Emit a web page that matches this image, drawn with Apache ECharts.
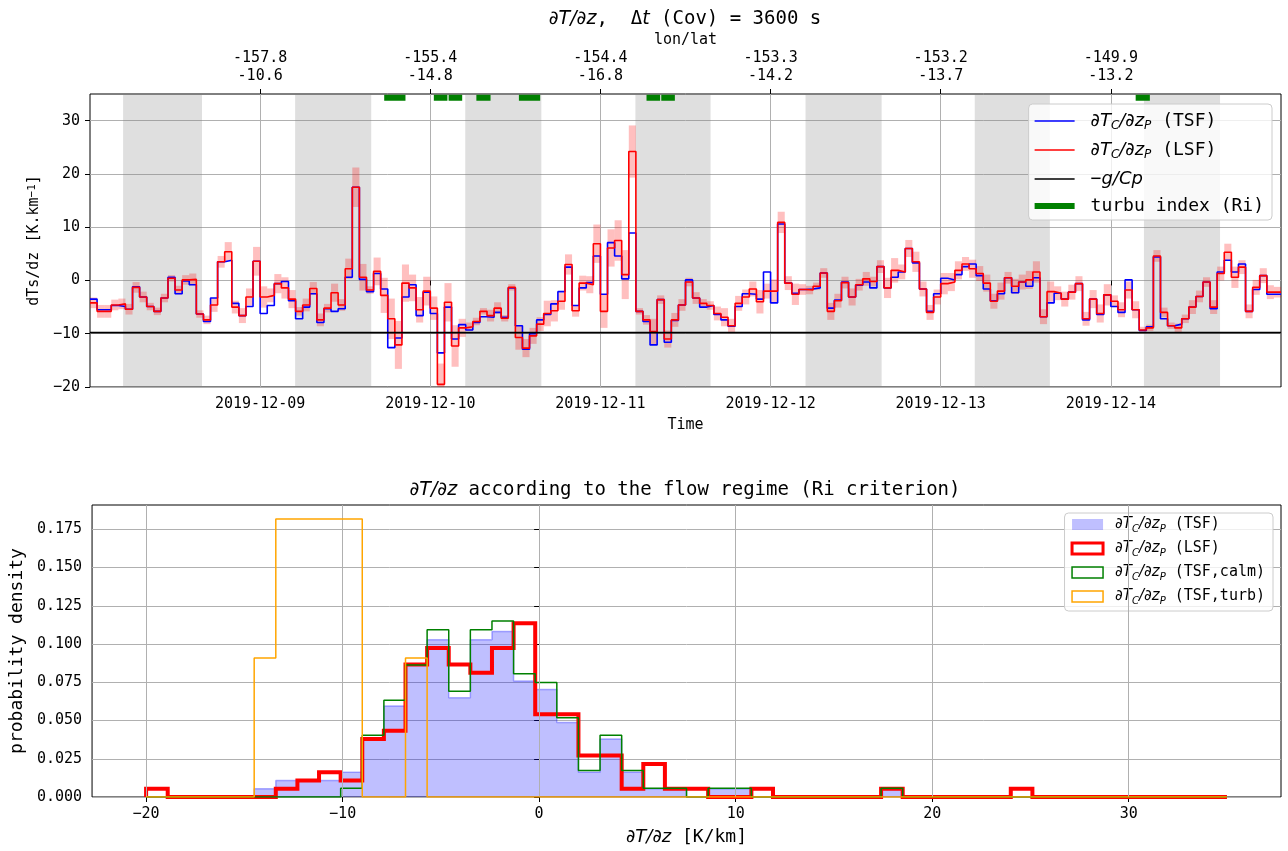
<!DOCTYPE html>
<html><head><meta charset="utf-8">
<script src="https://cdn.jsdelivr.net/npm/echarts@6/dist/echarts.min.js"></script>
<style>html,body{margin:0;padding:0;background:#fff}#c{width:1288px;height:851px}</style>
</head><body><div id="c"></div>
<script>
// ---------------- DATA ----------------
const startTime = '2019-12-08T00:00:00Z';   // first hourly sample
const tsf = [
 -3.5,-5.5,-5.5,-4.7,-4.9,-5.4,-1.2,-3.1,-4.9,-5.8,-3.3,0.6,-2.5,-0.1,-0.8,-6.3,-7.7,-3.3,3.5,3.8,-4.3,-6.6,-4.9,3.6,
 -6.2,-4.7,-0.6,-0.2,-3.8,-7.2,-5.0,-2.5,-7.9,-5.3,-5.8,-5.3,0.6,17.5,0.2,-2.1,1.3,-1.6,-12.6,-10.8,-3.1,-0.8,-6.6,-2.2,
 -6.2,-13.6,-5.0,-11.0,-8.3,-9.3,-7.9,-6.8,-6.9,-6.0,-6.9,-1.4,-8.5,-12.9,-10.0,-7.4,-6.4,-4.4,-2.1,2.5,-4.7,-1.4,-0.4,4.6,
 -2.6,7.1,4.6,0.3,8.9,-5.8,-7.7,-12.1,-3.6,-11.6,-7.5,-4.6,0.1,-3.3,-5.0,-4.7,-6.4,-7.4,-8.6,-4.9,-2.5,-2.6,-3.5,1.6,
 -4.2,10.6,-0.5,-2.4,-1.7,-1.6,-1.4,1.4,-5.2,-3.7,-0.3,-3.1,-0.9,-0.3,-1.4,2.6,-1.4,0.6,1.6,6.0,3.3,-1.6,-5.8,-2.5,
 0.4,0.1,1.1,2.6,3.1,0.9,-1.6,-3.8,-2.5,0.5,-2.3,-0.3,-1.1,0.5,-6.8,-4.2,-2.4,-3.5,-2.2,-0.6,-7.4,-3.5,-6.4,-2.7,
 -4.9,-6.0,0.1,-5.5,-9.4,-8.7,4.4,-7.2,-8.5,-8.2,-7.2,-5.0,-3.0,-0.3,-5.3,1.6,3.8,1.6,3.1,-5.8,-1.7,0.9,-2.6,-2.6
];
const lsf = [
 -4.2,-5.8,-5.8,-4.6,-4.4,-5.4,-1.3,-3.1,-4.9,-5.8,-3.3,0.4,-1.8,0.1,0.2,-6.3,-7.4,-4.6,3.5,5.4,-5.0,-6.6,-3.1,3.6,
 -3.1,-2.8,-0.6,-1.4,-3.5,-5.8,-4.6,-1.5,-7.4,-5.2,-2.3,-4.6,2.2,17.5,0.6,-1.8,1.7,-2.8,-7.2,-12.1,-0.5,-1.4,-5.5,-2.0,
 -5.2,-19.5,-4.1,-12.3,-8.9,-8.7,-7.7,-5.8,-6.6,-5.2,-7.1,-1.3,-10.7,-12.7,-10.4,-8.2,-6.2,-5.7,-3.9,3.0,-5.7,-0.5,-0.8,6.9,
 -5.8,6.1,7.5,1.1,24.2,-5.8,-7.4,-9.6,-3.6,-11.0,-7.4,-4.6,-0.3,-3.3,-4.3,-4.7,-6.2,-6.9,-8.5,-4.3,-3.1,-1.6,-4.0,-2.0,
 -2.0,10.9,-0.5,-2.6,-1.7,-1.8,-1.1,1.4,-5.8,-3.8,-0.4,-3.1,-0.8,0.3,-0.2,2.6,-1.4,1.9,1.6,6.0,3.5,-1.6,-6.0,-3.1,
 -0.6,-0.3,1.9,3.1,2.2,1.3,-0.5,-3.9,-2.0,0.5,-1.1,-0.3,0.1,1.6,-6.8,-2.1,-2.4,-3.5,-2.2,-0.6,-7.2,-3.5,-6.2,-2.7,
 -3.9,-5.5,-1.8,-5.5,-9.3,-8.9,4.6,-6.0,-8.5,-8.9,-7.2,-5.0,-3.0,-0.3,-5.0,1.3,5.3,0.6,2.5,-5.8,-1.3,0.9,-2.2,-2.2
];
const lsfErr = [
 1.0,1.2,1.2,1.0,1.0,1.0,1.0,1.0,0.7,0.7,0.8,0.6,0.8,0.9,1.1,0.7,0.8,1.3,1.1,1.8,1.2,1.4,1.6,2.7,
 2.0,1.3,1.8,2.0,1.7,0.8,1.2,1.2,1.2,0.8,1.7,1.1,1.9,3.7,2.5,0.7,2.6,3.3,3.8,4.5,3.5,2.5,2.4,2.7,
 2.2,3.9,3.6,3.9,1.7,0.8,0.7,0.6,1.1,1.1,0.6,0.6,2.3,1.7,1.5,1.3,2.4,2.0,1.6,1.9,1.1,1.4,1.6,3.6,
 3.1,3.5,3.8,4.6,4.9,0.6,0.9,2.4,0.8,1.6,1.3,1.1,0.8,1.1,0.8,0.8,1.3,1.7,1.3,1.4,1.4,1.4,2.2,1.4,
 2.2,2.0,1.3,2.0,1.0,0.8,0.7,0.9,1.6,1.3,1.1,1.6,1.1,1.3,0.9,1.2,1.9,2.3,1.4,1.6,1.9,1.4,1.4,1.4,
 2.0,1.7,1.7,1.3,1.7,1.4,1.6,1.4,1.6,1.1,1.4,1.4,1.7,2.0,1.4,1.9,1.3,1.4,1.4,1.4,1.3,1.7,1.7,2.0,
 1.1,1.4,1.6,1.6,0.6,0.6,1.1,0.9,0.6,0.8,0.8,1.3,1.1,0.9,1.3,1.3,1.6,2.0,1.3,1.3,1.4,1.4,1.3,1.0
];
const gCp = -9.8;
const nightBands = [
 ['2019-12-08T04:40:00Z','2019-12-08T15:48:00Z'],
 ['2019-12-09T04:56:00Z','2019-12-09T15:40:00Z'],
 ['2019-12-10T04:56:00Z','2019-12-10T15:40:00Z'],
 ['2019-12-11T04:56:00Z','2019-12-11T15:32:00Z'],
 ['2019-12-12T04:56:00Z','2019-12-12T15:40:00Z'],
 ['2019-12-13T04:48:00Z','2019-12-13T15:24:00Z'],
 ['2019-12-14T04:40:00Z','2019-12-14T15:24:00Z']
];
const turbuPeriods = [
 ['2019-12-09T17:30:00Z','2019-12-09T20:30:00Z'],
 ['2019-12-10T00:30:00Z','2019-12-10T02:25:00Z'],
 ['2019-12-10T02:35:00Z','2019-12-10T04:30:00Z'],
 ['2019-12-10T06:30:00Z','2019-12-10T08:30:00Z'],
 ['2019-12-10T12:30:00Z','2019-12-10T15:30:00Z'],
 ['2019-12-11T06:30:00Z','2019-12-11T08:25:00Z'],
 ['2019-12-11T08:35:00Z','2019-12-11T10:30:00Z'],
 ['2019-12-14T03:30:00Z','2019-12-14T05:30:00Z']
];
const turbuLevel = 34.3;
const endTime = '2019-12-15T00:00:00Z';
const dayTicks = ['2019-12-09T00:00:00Z','2019-12-10T00:00:00Z','2019-12-11T00:00:00Z','2019-12-12T00:00:00Z','2019-12-13T00:00:00Z','2019-12-14T00:00:00Z'];
const lonLabels = ['-157.8','-155.4','-154.4','-153.3','-153.2','-149.9'];
const latLabels = ['-10.6','-14.8','-16.8','-14.2','-13.7','-13.2'];
const topYTicks = [-20,-10,0,10,20,30];

const binEdges = [-20,-18.9,-17.8,-16.7,-15.6,-14.5,-13.4,-12.3,-11.2,-10.1,-9,-7.9,-6.8,-5.7,-4.6,-3.5,-2.4,-1.3,-0.2,0.9,
 2,3.1,4.2,5.3,6.4,7.5,8.6,9.7,10.8,11.9,13,14.1,15.2,16.3,17.4,18.5,19.6,20.7,21.8,22.9,24,25.1,26.2,27.3,28.4,29.5,30.6,31.7,32.8,33.9,35];
const histTSF = [0,0,0,0,0,0.0054,0.0108,0.0108,0.0108,0.0162,0.0379,0.0595,0.0866,0.1028,0.0649,0.1028,0.1082,0.0758,0.0703,0.0487,
 0.0162,0.0379,0.0162,0.0054,0.0054,0,0.0054,0.0054,0,0,0,0,0,0,0.0054,0,0,0,0,0,0,0,0,0,0,0,0,0,0,0];
const histLSF = [0.0054,0,0,0,0,0,0.0054,0.0108,0.0162,0.0108,0.0379,0.0433,0.0866,0.0974,0.0866,0.0812,0.0974,0.1136,0.0541,0.0541,
 0.0271,0.0271,0.0054,0.0216,0.0054,0.0054,0,0,0.0054,0,0,0,0,0,0.0054,0,0,0,0,0,0.0054,0,0,0,0,0,0,0,0,0];
const histCalm = [0,0,0,0,0,0,0,0,0,0.0058,0.0403,0.0633,0.0863,0.1093,0.0691,0.1093,0.1151,0.0806,0.0748,0.0518,
 0.0173,0.0403,0.0173,0.0058,0.0058,0,0.0058,0.0058,0,0,0,0,0,0,0.0058,0,0,0,0,0,0,0,0,0,0,0,0,0,0,0];
const histTurb = [0,0,0,0,0,0.0909,0.1818,0.1818,0.1818,0.1818,0,0,0.0909,0,0,0,0,0,0,0,
 0,0,0,0,0,0,0,0,0,0,0,0,0,0,0,0,0,0,0,0,0,0,0,0,0,0,0,0,0,0];
const histXTicks = [-20,-10,0,10,20,30];
const histYTicks = [0,0.025,0.05,0.075,0.1,0.125,0.15,0.175];

// ---------------- BUILD ----------------
const HOUR = 3600000;
const t0 = Date.parse(startTime);
const toH = s => (Date.parse(s) - t0) / HOUR;
const tEnd = toH(endTime);
const tickH = dayTicks.map(toH);
const MONO = 'DejaVu Sans Mono', MATH = 'DejaVu Sans';
const FS = 15, TFS = 19, LFS = 18;
const minus = v => (v < 0 ? '\u2212' : '') + Math.abs(v);

function stepPts(vals){ const p = vals.map((v,i)=>[i, v]); p.push([vals.length, vals[vals.length-1]]); return p; }
function histPts(d){ const n = binEdges.length-1; const p=[[binEdges[0],0]]; d.forEach((v,i)=>p.push([binEdges[i],v])); p.push([binEdges[n], d[d.length-1]]); p.push([binEdges[n],0]); return p; }

const errData = lsf.map((v,i)=> [i, +(v - lsfErr[i]).toFixed(2), +(v + lsfErr[i]).toFixed(2)]);
const turbuPts = [];
turbuPeriods.forEach(([s,e]) => { turbuPts.push([toH(s), turbuLevel],[toH(e), turbuLevel],[toH(e), null]); });

const mathRich = (fs) => ({
  m: {fontFamily: MATH, fontStyle:'italic', fontSize: fs, lineHeight: fs+4, color:'#000'},
  m0:{fontFamily: MATH, fontStyle:'italic', fontSize: fs, lineHeight: fs+4, color:'#000', padding:[0,0,0,0]},
  s: {fontFamily: MATH, fontStyle:'italic', fontSize: Math.round(fs*0.68), lineHeight: Math.round(fs*0.68), verticalAlign:'bottom', color:'#000'},
  t: {fontFamily: MONO, fontSize: fs, lineHeight: fs+4, color:'#000'},
  t0:{fontFamily: MONO, fontSize: fs, lineHeight: fs+4, color:'#000'},
  sup:{fontFamily: MONO, fontSize: Math.round(fs*0.7), lineHeight: Math.round(fs*0.7), verticalAlign:'top', color:'#000'}
});
const topRich = mathRich(18); topRich.m0.padding=[0,0,0,11]; topRich.t0.padding=[0,0,0,11];
const botRich = mathRich(15); botRich.m0.padding=[0,0,0,7];
const dT = '{m0|\u2202T}{s|C}{m|/\u2202z}{s|P}';
const topLegendText = {TSF: dT+'{t| (TSF)}', LSF: dT+'{t| (LSF)}', gCp:'{t0|\u2212}{m|g/Cp}', turbu:'{t0|turbu index (Ri)}'};
const botLegendText = {hTSF: dT+'{t| (TSF)}', hLSF: dT+'{t| (LSF)}', hCalm: dT+'{t| (TSF,calm)}', hTurb: dT+'{t| (TSF,turb)}'};

const gridLine = {show:true, lineStyle:{color:'#b0b0b0', width:1}};
const tick = (vals) => ({show:true, length:5, lineStyle:{color:'#000', width:1}, customValues: vals});
const lab = (vals, fmt, extra) => Object.assign({show:true, customValues: vals, formatter: fmt, fontFamily: MONO, fontSize: FS, color:'#000', margin: 9}, extra||{});
const thinLine = 'path://M0,0H40V1.6H0Z';
const thickLine = 'path://M0,0H40V6H0Z';

const option = {
  animation: false,
  backgroundColor: '#fff',
  title: [
    {text: '{m|\u2202T/\u2202z}{t|,  \u0394}{m|t}{t| (Cov) = 3600 s}', left: 680, top: 3, textAlign:'center',
     textStyle:{fontFamily: MONO, fontSize: TFS, fontWeight:'normal', color:'#000', rich: mathRich(TFS)}},
    {text: '{m|\u2202T/\u2202z}{t| according to the flow regime (Ri criterion)}', left: 680, top: 474, textAlign:'center',
     textStyle:{fontFamily: MONO, fontSize: TFS, fontWeight:'normal', color:'#000', rich: mathRich(TFS)}}
  ],
  grid: [
    {left: 90, top: 94, width: 1191, height: 293, show: true, borderColor:'#000', borderWidth: 1, backgroundColor:'rgba(0,0,0,0)'},
    {left: 90, top: 505, width: 1191, height: 292, show: true, borderColor:'#000', borderWidth: 1, backgroundColor:'rgba(0,0,0,0)'}
  ],
  xAxis: [
    {type:'value', gridIndex:0, min:0, max:tEnd, interval:24, position:'bottom',
     axisLine:{show:false}, axisTick: tick(tickH), splitLine: gridLine,
     axisLabel: lab(tickH, v => { const i = tickH.findIndex(h => Math.abs(h-v) < 1e-6); return i < 0 ? '' : dayTicks[i].slice(0,10); }, {margin: 10}),
     name:'Time', nameLocation:'middle', nameGap: 31, nameTextStyle:{fontFamily: MONO, fontSize: FS, color:'#000'}},
    {type:'value', gridIndex:0, min:0, max:tEnd, interval:24, position:'top',
     axisLine:{show:false}, axisTick: tick(tickH), splitLine:{show:false},
     axisLabel: lab(tickH, v => { const i = tickH.findIndex(h => Math.abs(h-v) < 1e-6); return i < 0 ? '' : lonLabels[i] + '\n' + latLabels[i]; }, {lineHeight: 18, margin: 9}),
     name:'lon/lat', nameLocation:'middle', nameGap: 46, nameTextStyle:{fontFamily: MONO, fontSize: FS, color:'#000'}},
    {type:'value', gridIndex:1, min:-22.75, max:37.75, position:'bottom',
     axisLine:{show:false}, axisTick: tick(histXTicks), splitLine:{show:false},
     axisLabel: lab(histXTicks, v => minus(v), {margin: 10}),
     name:'{m|\u2202T/\u2202z}{t| [K/km]}', nameLocation:'middle', nameGap: 29, nameTextStyle:{fontFamily: MONO, fontSize: LFS, color:'#000', rich: mathRich(LFS)}}
  ],
  yAxis: [
    {type:'value', gridIndex:0, min:-20, max:35, interval:10,
     axisLine:{show:false}, axisTick: tick(topYTicks), splitLine: gridLine,
     axisLabel: lab(topYTicks, v => minus(v), {margin: 10}),
     name:'dTs/dz [K.km{sup|\u22121}]', nameLocation:'middle', nameGap: 38, nameTextStyle:{fontFamily: MONO, fontSize: FS, color:'#000', rich: mathRich(FS)}},
    {type:'value', gridIndex:1, min:0, max:0.1909, interval:0.025,
     axisLine:{show:false}, axisTick: tick(histYTicks), splitLine: gridLine,
     axisLabel: lab(histYTicks, v => (+v).toFixed(3), {margin: 10}),
     name:'probability density', nameLocation:'middle', nameGap: 56, nameTextStyle:{fontFamily: MONO, fontSize: LFS, color:'#000'}}
  ],
  legend: [
    {orient:'vertical', right:16, top:104, padding:[8,8,5,6], itemGap:9, itemWidth:40, itemHeight:14, symbolKeepAspect:true,
     backgroundColor:'rgba(255,255,255,0.8)', borderColor:'#cccccc', borderWidth:1, borderRadius:4, selectedMode:false,
     data:[{name:'TSF', icon: thinLine, itemStyle:{color:'#0000ff', borderWidth:0}},
           {name:'LSF', icon: thinLine, itemStyle:{color:'#ff0000', borderWidth:0}},
           {name:'gCp', icon: thinLine, itemStyle:{color:'#000000', borderWidth:0}},
           {name:'turbu', icon: thickLine, itemStyle:{color:'#008000', borderWidth:0}}],
     formatter: n => topLegendText[n], textStyle:{fontFamily: MONO, fontSize:18, color:'#000', rich: topRich}},
    {orient:'vertical', right:15, top:513, padding:[4,8,5,6], itemGap:7, itemWidth:31, itemHeight:11,
     backgroundColor:'rgba(255,255,255,0.8)', borderColor:'#cccccc', borderWidth:1, borderRadius:4, selectedMode:false,
     data:[{name:'hTSF', icon:'rect', itemStyle:{color:'rgba(0,0,255,0.25)', borderWidth:0}},
           {name:'hLSF', icon:'rect', itemStyle:{color:'rgba(255,255,255,0)', borderColor:'#ff0000', borderWidth:3}},
           {name:'hCalm', icon:'rect', itemStyle:{color:'rgba(255,255,255,0)', borderColor:'#008000', borderWidth:1.5}},
           {name:'hTurb', icon:'rect', itemStyle:{color:'rgba(255,255,255,0)', borderColor:'#ffa500', borderWidth:1.5}}],
     formatter: n => botLegendText[n], textStyle:{fontFamily: MONO, fontSize:15, color:'#000', rich: botRich}}
  ],
  series: [
    {type:'line', name:'night', xAxisIndex:0, yAxisIndex:0, data:[[0, gCp]], symbol:'none', lineStyle:{opacity:0}, silent:true, z:1,
     markArea:{silent:true, itemStyle:{color:'rgba(128,128,128,0.25)'}, data: nightBands.map(([s,e]) => [{xAxis: toH(s)}, {xAxis: toH(e)}])}},
    {type:'custom', name:'err', xAxisIndex:0, yAxisIndex:0, data: errData, encode:{x:0, y:[1,2]}, silent:true, z:2, clip:true,
     renderItem: (params, api) => {
       const a = api.coord([api.value(0), api.value(2)]);
       const b = api.coord([api.value(0) + 1, api.value(1)]);
       return {type:'rect', shape:{x:a[0], y:a[1], width:b[0]-a[0], height:b[1]-a[1]}, style:{fill:'rgba(255,0,0,0.25)'}};
     }},
    {type:'line', name:'TSF', xAxisIndex:0, yAxisIndex:0, data: stepPts(tsf), step:'end', symbol:'none', color:'#0000ff',
     lineStyle:{color:'#0000ff', width:1.6}, z:3},
    {type:'line', name:'LSF', xAxisIndex:0, yAxisIndex:0, data: stepPts(lsf), step:'end', symbol:'none', color:'#ff0000',
     lineStyle:{color:'#ff0000', width:1.6}, z:3},
    {type:'line', name:'gCp', xAxisIndex:0, yAxisIndex:0, data: [[0,gCp],[tEnd,gCp]], symbol:'none', color:'#000',
     lineStyle:{color:'#000', width:1.6}, z:4},
    {type:'line', name:'turbu', xAxisIndex:0, yAxisIndex:0, data: turbuPts, symbol:'none', connectNulls:false, color:'#008000',
     lineStyle:{color:'#008000', width:6, cap:'butt'}, z:4},

    {type:'line', name:'gridX', xAxisIndex:2, yAxisIndex:1, data:[[histXTicks[0],0]], symbol:'none', lineStyle:{opacity:0}, silent:true, z:1,
     markLine:{silent:true, symbol:['none','none'], label:{show:false}, lineStyle:{color:'#b0b0b0', width:1, type:'solid'},
       data: histXTicks.map(v => ({xAxis: v}))}},
    {type:'line', name:'hTSF', xAxisIndex:2, yAxisIndex:1, data: histPts(histTSF), step:'end', symbol:'none', color:'rgba(0,0,255,0.25)',
     lineStyle:{color:'rgba(0,0,255,0.3)', width:1.5}, areaStyle:{color:'rgba(0,0,255,0.25)', opacity:1}, z:2},
    {type:'line', name:'hLSF', xAxisIndex:2, yAxisIndex:1, data: histPts(histLSF), step:'end', symbol:'none', color:'#ff0000',
     lineStyle:{color:'#ff0000', width:4, join:'miter'}, z:3},
    {type:'line', name:'hCalm', xAxisIndex:2, yAxisIndex:1, data: histPts(histCalm), step:'end', symbol:'none', color:'#008000',
     lineStyle:{color:'#008000', width:1.5}, z:4},
    {type:'line', name:'hTurb', xAxisIndex:2, yAxisIndex:1, data: histPts(histTurb), step:'end', symbol:'none', color:'#ffa500',
     lineStyle:{color:'#ffa500', width:1.5}, z:5}
  ]
};
const chart = echarts.init(document.getElementById('c'), null, {renderer:'canvas', width:1288, height:851});
chart.setOption(option);
</script>
</body></html>
